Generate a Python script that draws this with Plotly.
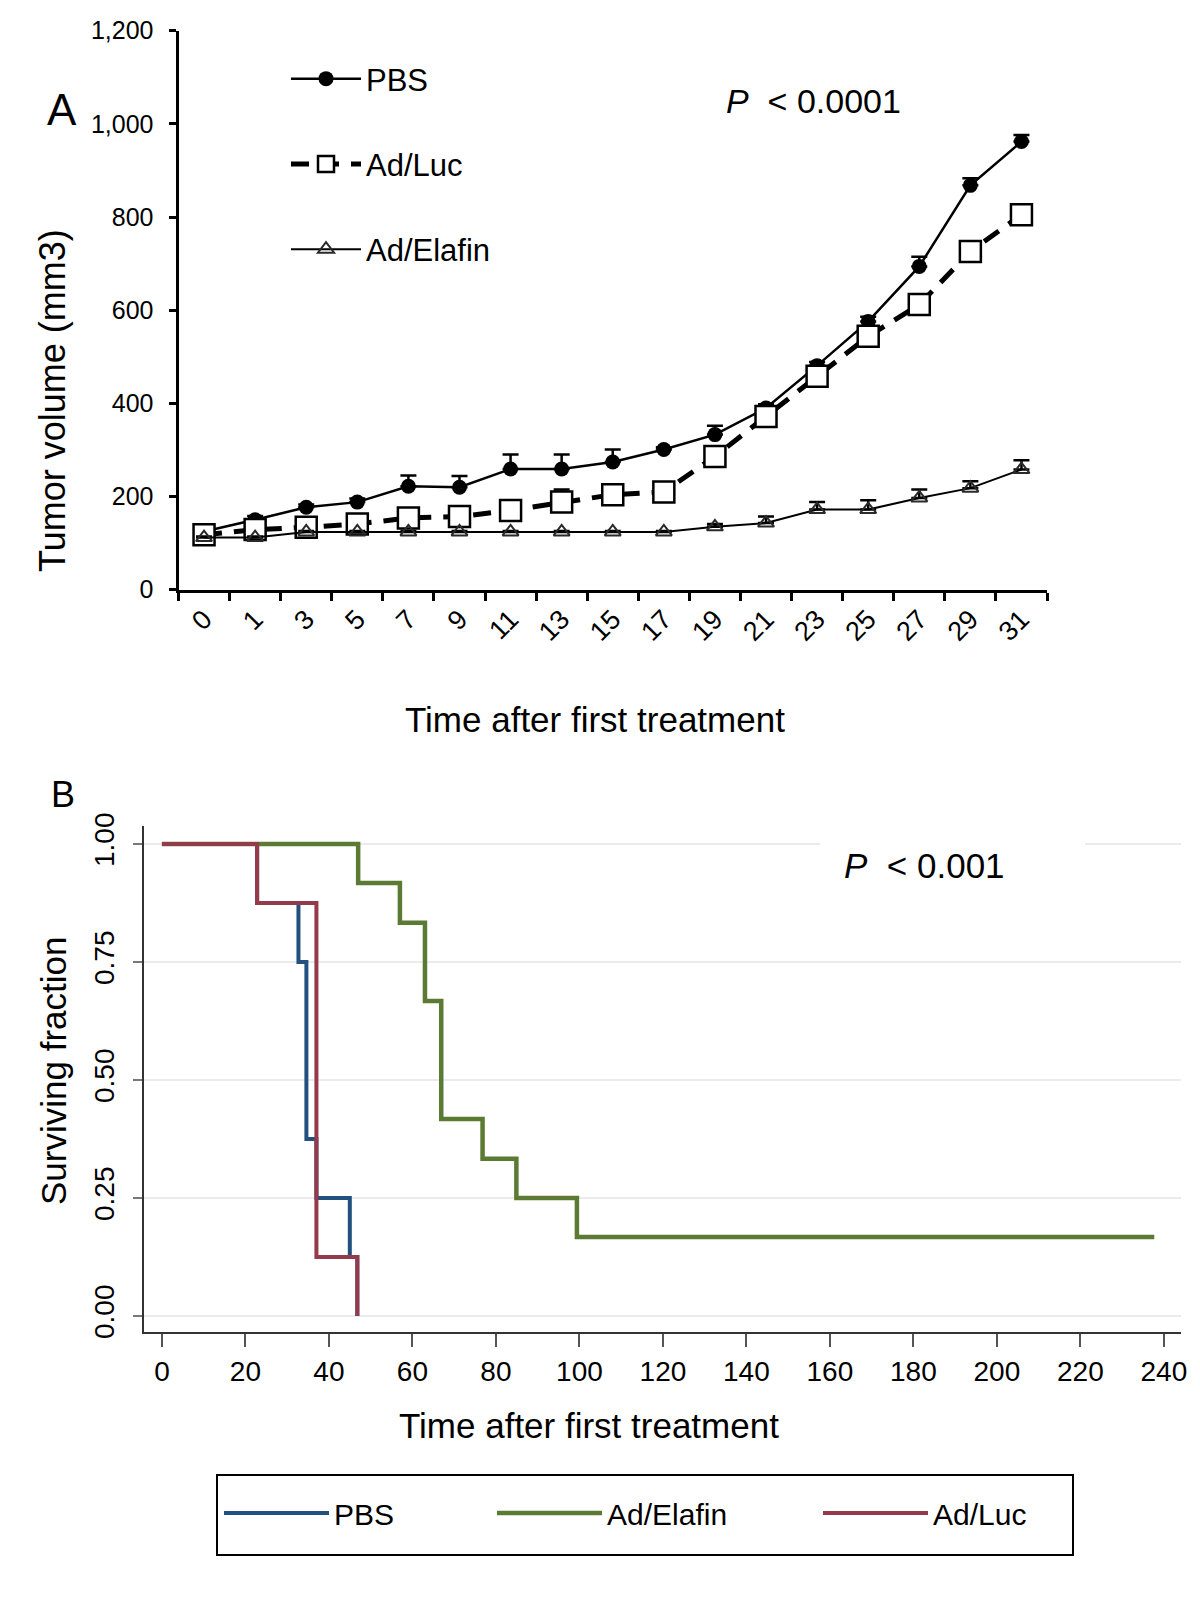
import plotly.graph_objects as go

# ---------------- Panel A data ----------------
days = ["0", "1", "3", "5", "7", "9", "11", "13", "15", "17", "19", "21", "23", "25", "27", "29", "31"]
pbs_vol = [125, 150, 177, 188, 222, 220, 259, 259, 274, 301, 333, 390, 481, 576, 694, 868, 962]
pbs_err = [5, 8, 6, 8, 23, 24, 31, 31, 27, 5, 19, 8, 8, 10, 21, 15, 14]
luc_vol = [118, 129, 134, 141, 154, 157, 170, 188, 204, 210, 286, 372, 458, 544, 612, 726, 805]
luc_err = [5, 5, 5, 6, 8, 8, 10, 27, 10, 10, 10, 10, 10, 10, 10, 10, 10]
elafin_vol = [112, 112, 124, 124, 124, 124, 124, 124, 124, 124, 135, 143, 172, 172, 197, 218, 258]
elafin_err = [2, 2, 2, 2, 2, 2, 2, 2, 2, 2, 6, 14, 16, 20, 18, 15, 20]
vol_ticks = [0, 200, 400, 600, 800, 1000, 1200]

# ---------------- Panel B data (Kaplan-Meier steps) ----------------
pbs_t = [0, 22.8, 32.7, 34.6, 37, 45, 46.8]
pbs_s = [1, 0.875, 0.75, 0.375, 0.25, 0.125, 0]
elafin_t = [0, 47, 57, 63, 66.9, 76.8, 84.9, 99.4, 237.7]
elafin_s = [1, 0.917, 0.833, 0.667, 0.417, 0.333, 0.25, 0.167, 0.167]
luc_t = [0, 22.8, 37, 46.8]
luc_s = [1, 0.875, 0.125, 0]
surv_ticks = [0, 0.25, 0.5, 0.75, 1.0]
surv_ticktext = ["0.00", "0.25", "0.50", "0.75", "1.00"]
time_ticks = list(range(0, 241, 20))

W, H = 1200, 1616
FONT = "Liberation Sans, Arial, sans-serif"
NARROW = "Liberation Sans Narrow, Arial Narrow, Liberation Sans, Arial, sans-serif"

fig = go.Figure()

zeros = [0] * len(days)
fig.add_trace(go.Scatter(
    x=days, y=pbs_vol, name="PBS", mode="lines+markers", legendgroup="a1",
    line=dict(color="black", width=2.5),
    marker=dict(symbol="circle", size=15, color="black"),
    error_y=dict(type="data", symmetric=False, array=pbs_err, arrayminus=zeros,
                 color="black", thickness=2.5, width=8),
    xaxis="x", yaxis="y", legend="legend"))
fig.add_trace(go.Scatter(
    x=days, y=luc_vol, name="Ad/Luc", mode="lines+markers", legendgroup="a2",
    line=dict(color="black", width=5, dash="18px,12px"),
    marker=dict(symbol="square", size=21, color="white", line=dict(color="black", width=2.5)),
    error_y=dict(type="data", symmetric=False, array=luc_err, arrayminus=zeros,
                 color="black", thickness=2.5, width=8),
    xaxis="x", yaxis="y", legend="legend"))
fig.add_trace(go.Scatter(
    x=days, y=elafin_vol, name="Ad/Elafin", mode="lines+markers", legendgroup="a3",
    line=dict(color="black", width=2),
    marker=dict(symbol="triangle-up-open", size=14, color="#2a2a2a", line=dict(width=2)),
    error_y=dict(type="data", symmetric=False, array=elafin_err, arrayminus=zeros,
                 color="black", thickness=2.5, width=8),
    xaxis="x", yaxis="y", legend="legend"))

# Panel B
fig.add_trace(go.Scatter(x=pbs_t, y=pbs_s, name="PBS", mode="lines", line_shape="hv",
                         line=dict(color="#22507f", width=4), xaxis="x2", yaxis="y2",
                         legend="legend2"))
fig.add_trace(go.Scatter(x=elafin_t, y=elafin_s, name="Ad/Elafin", mode="lines", line_shape="hv",
                         line=dict(color="#5b7a33", width=4.5), xaxis="x2", yaxis="y2",
                         legend="legend2"))
fig.add_trace(go.Scatter(x=luc_t, y=luc_s, name="Ad/Luc", mode="lines", line_shape="hv",
                         line=dict(color="#943a4b", width=4), xaxis="x2", yaxis="y2",
                         legend="legend3"))

def px_x(p):
    return p / W

def px_y(p):
    return 1 - p / H

AX_L = 170.5
LEG_B = dict(yanchor="middle", xanchor="left", orientation="h",
             font=dict(size=30, family=NARROW), itemwidth=105,
             bgcolor="rgba(0,0,0,0)", borderwidth=0)

fig.update_layout(
    width=W, height=H,
    margin=dict(l=0, r=0, t=0, b=0),
    paper_bgcolor="white", plot_bgcolor="white",
    font=dict(family=FONT, color="black", size=25),
    xaxis=dict(domain=[px_x(AX_L), px_x(1039)], anchor="y", type="category",
               categoryorder="array", categoryarray=days, range=[-0.5, 16.5],
               tickson="boundaries", showline=True, linecolor="black", linewidth=3,
               ticks="outside", ticklen=8, tickwidth=3, tickcolor="black",
               tickangle=-45, tickfont=dict(size=27), showgrid=False, zeroline=False,
               automargin=False),
    yaxis=dict(domain=[px_y(581.7), px_y(22.7)], anchor="x", range=[0, 1200],
               tickvals=vol_ticks, tickformat=",", showline=True, linecolor="black",
               linewidth=3, ticks="outside", ticklen=7, tickwidth=3, tickcolor="black",
               tickfont=dict(size=25), showgrid=False, zeroline=False, automargin=False,
               ticklabelstandoff=10),
    xaxis2=dict(domain=[px_x(136), px_x(1173)], anchor="y2", range=[-4.3, 244.1],
                tickvals=time_ticks, showline=True, linecolor="#333333", linewidth=2,
                ticks="outside", ticklen=13, tickwidth=1.5, tickcolor="#555555",
                tickfont=dict(size=28, family=NARROW), showgrid=False, zeroline=False,
                automargin=False),
    yaxis2=dict(domain=[px_y(1324), px_y(818)], anchor="x2", range=[-0.034, 1.038],
                tickvals=surv_ticks, ticktext=surv_ticktext, tickangle=-90,
                showline=True, linecolor="#333333", linewidth=2,
                ticks="outside", ticklen=9, tickwidth=1.5, tickcolor="#777777",
                tickfont=dict(size=28), showgrid=True, gridcolor="#ebebeb", gridwidth=1.5,
                zeroline=False, automargin=False, ticklabelstandoff=8),
    legend=dict(x=px_x(278), y=px_y(44), xanchor="left", yanchor="top",
                font=dict(size=31), itemwidth=70, tracegroupgap=42,
                bgcolor="rgba(0,0,0,0)", borderwidth=0, traceorder="grouped"),
    legend2=dict(x=px_x(211), y=px_y(1505), entrywidth=153, **LEG_B),
    legend3=dict(x=px_x(810), y=px_y(1505), **LEG_B),
    showlegend=True,
)

annotations = [
    dict(text="A", x=px_x(54), y=px_y(102), font=dict(size=44)),
    dict(text="B", x=px_x(55), y=px_y(786), font=dict(size=36)),
    dict(text="<i>P</i>&nbsp; < 0.0001", x=px_x(716), y=px_y(92.7), xanchor="left",
         font=dict(size=34)),
    dict(text="<i>P</i>&nbsp; < 0.001", x=px_x(834), y=px_y(857), xanchor="left",
         font=dict(size=35)),
    dict(text="Tumor volume (mm3)", x=px_x(45), y=px_y(393), textangle=-90, font=dict(size=36)),
    dict(text="Time after first treatment", x=px_x(587), y=px_y(711), font=dict(size=35)),
    dict(text="Surviving fraction", x=px_x(45), y=px_y(1063), textangle=-90, font=dict(size=35)),
    dict(text="Time after first treatment", x=px_x(581), y=px_y(1417), font=dict(size=35)),
]
for a in annotations:
    a.setdefault("xanchor", "center")
    a.update(xref="paper", yref="paper", yanchor="middle", showarrow=False)
fig.update_layout(annotations=annotations)

fig.update_layout(shapes=[
    # white patch behind the P value label covering the top gridline
    dict(type="rect", xref="x2 domain", yref="y2", x0=(812 - 136) / 1037, x1=(1077 - 136) / 1037,
         y0=0.985, y1=1.015, fillcolor="white", line=dict(width=0), layer="above"),
    # legend frame for panel B
    dict(type="rect", xref="paper", yref="paper", x0=px_x(209), x1=px_x(1065),
         y0=px_y(1547), y1=px_y(1467), line=dict(color="black", width=2),
         fillcolor="rgba(0,0,0,0)", layer="above"),
])

fig.write_html("out.html")
